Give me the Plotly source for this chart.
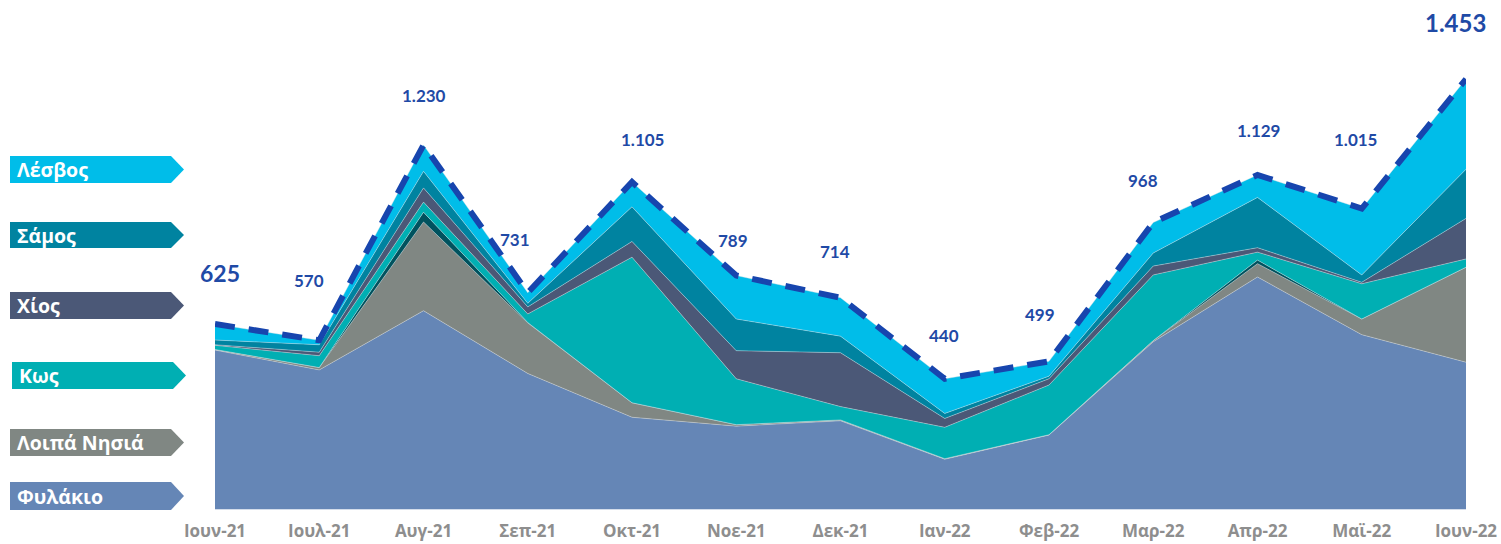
import plotly.graph_objects as go

months = ["Ιουν-21", "Ιουλ-21", "Αυγ-21", "Σεπ-21", "Οκτ-21", "Νοε-21", "Δεκ-21",
          "Ιαν-22", "Φεβ-22", "Μαρ-22", "Απρ-22", "Μαϊ-22", "Ιουν-22"]

fylakio = [537, 470, 670, 458, 310, 280, 298, 168, 250, 565, 784, 589, 496]
loipa   = [2, 8, 300, 171, 49, 5, 3, 2, 1, 4, 45, 53, 321]
leros   = [0, 0, 33, 1, 0, 0, 0, 0, 0, 0, 12, 0, 0]
kos     = [14, 40, 34, 29, 492, 155, 45, 106, 168, 222, 27, 119, 28]
chios   = [2, 12, 48, 24, 53, 95, 182, 30, 21, 30, 15, 5, 137]
samos   = [16, 25, 56, 12, 117, 107, 56, 17, 9, 44, 170, 25, 166]
lesvos  = [54, 15, 89, 36, 84, 147, 130, 117, 50, 103, 76, 224, 305]

series = [
    ("Φυλάκιο", fylakio, "#6586B6", True),
    ("Λοιπά Νησιά", loipa, "#808783", True),
    ("Λέρος", leros, "#00525E", False),
    ("Κως", kos, "#00AFB3", True),
    ("Χίος", chios, "#4B5877", True),
    ("Σάμος", samos, "#0083A0", True),
    ("Λέσβος", lesvos, "#00BDE9", True),
]

totals = [sum(v) for v in zip(*[s[1] for s in series])]

# layout geometry (pixels)
W, H = 1501, 544
L, R = 215, 1466
BASE = 509
YMAX = 1720

def px(x):
    return (x - L) / (R - L)

def py(y):
    return (BASE - y) / BASE

fig = go.Figure()
for name, vals, col, _ in series:
    fig.add_trace(go.Scatter(
        x=list(range(len(months))), y=vals, name=name, mode="lines",
        stackgroup="one", fillcolor=col,
        line=dict(width=0.7, color="rgba(220,225,230,0.6)"),
        showlegend=False, hoverinfo="skip"))

fig.add_trace(go.Scatter(
    x=list(range(len(months))), y=totals, mode="lines",
    line=dict(color="#1745AE", width=6, dash="20px,14px"),
    showlegend=False, hoverinfo="skip"))

def fmt(v):
    return f"{v:,}".replace(",", ".")

# label offsets (dx, dy) in pixels and sizes
label_dx = [5, -10, 0, -13, 10, -3, -6, -1, -9, -10, 1, -6, -11]
label_dy = [51, 60, 50, 53, 43, 35, 46, 43, 47, 42, 44, 69, 57]
label_sz = [23, 17, 17, 17, 17, 17, 17, 17, 17, 17, 17, 17, 24]

annotations = []
for i, t in enumerate(totals):
    annotations.append(dict(
        x=i, y=t, xref="x", yref="y", text=f"<b>{fmt(t)}</b>", showarrow=False,
        xshift=label_dx[i], yshift=label_dy[i],
        font=dict(family="Lato, 'Open Sans', sans-serif", size=label_sz[i], color="#1F4AA6")))

# legend arrows
legend_items = [
    ("Λέσβος", "#00BDE9", 156, 183),
    ("Σάμος", "#0083A0", 222, 248),
    ("Χίος", "#4B5877", 292, 319),
    ("Κως", "#00AFB3", 362, 389),
    ("Λοιπά Νησιά", "#808783", 429, 456),
    ("Φυλάκιο", "#6586B6", 482, 510),
]
shapes = []
for name, col, y0, y1 in legend_items:
    x0 = 12 if name == "Κως" else 10
    x1 = 173 if name == "Κως" else 171
    tip = 186 if name == "Κως" else 184
    ym = (y0 + y1) / 2
    path = (f"M {px(x0)},{py(y0)} L {px(x1)},{py(y0)} L {px(tip)},{py(ym)} "
            f"L {px(x1)},{py(y1)} L {px(x0)},{py(y1)} Z")
    shapes.append(dict(type="path", path=path, xref="paper", yref="paper",
                       fillcolor=col, line=dict(width=0), layer="above"))
    annotations.append(dict(
        x=px(x0 + 5), y=py(ym), xref="paper", yref="paper", xanchor="left", yanchor="middle",
        text=f"<b>{name}</b>", showarrow=False,
        font=dict(family="'Open Sans', Lato, sans-serif", size=19.5, color="white")))

fig.update_layout(
    width=W, height=H, margin=dict(l=L, r=W - R, t=0, b=H - BASE),
    paper_bgcolor="white", plot_bgcolor="white",
    xaxis=dict(tickmode="array", tickvals=list(range(len(months))), ticktext=[f"<b>{m}</b>" for m in months],
               range=[0, len(months) - 1], showgrid=False, zeroline=False,
               showline=True, linecolor="#D3DCEA", linewidth=1, ticks="",
               tickfont=dict(family="'Open Sans', Lato, sans-serif", size=17, color="#8E8E8E"),
               ticklabelstandoff=7),
    yaxis=dict(range=[0, YMAX], visible=False, showgrid=False, zeroline=False),
    annotations=annotations, shapes=shapes,
)

fig.write_html("out.html", config={"displayModeBar": False, "staticPlot": True},
               post_script="document.body.style.margin='0px';document.body.style.overflow='hidden';")
